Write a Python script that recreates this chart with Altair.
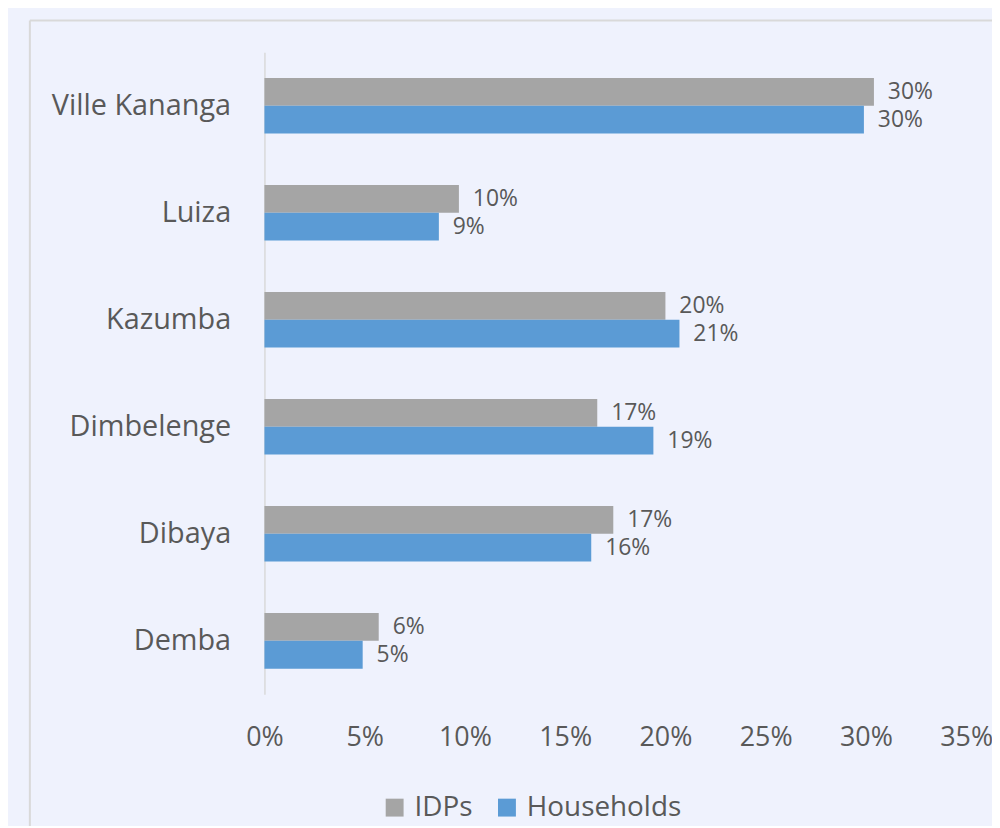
import altair as alt
import pandas as pd

districts = ["Ville Kananga", "Luiza", "Kazumba", "Dimbelenge", "Dibaya", "Demba"]
idps = [0.304, 0.097, 0.200, 0.166, 0.174, 0.057]
households = [0.299, 0.087, 0.207, 0.194, 0.163, 0.049]
series = ["IDPs", "Households"]
x_ticks = [0, 0.05, 0.10, 0.15, 0.20, 0.25, 0.30, 0.35]

rows = []
for d, a, b in zip(districts, idps, households):
    rows.append({"district": d, "series": "IDPs", "value": a})
    rows.append({"district": d, "series": "Households", "value": b})
df = pd.DataFrame(rows)

FONT = "Open Sans"
TXT = "#595959"
BG = "#EFF2FD"

y_enc = alt.Y("district:N", sort=districts, title=None,
              scale=alt.Scale(paddingInner=0.48, paddingOuter=0.24),
              axis=alt.Axis(labelFontSize=29, labelColor=TXT, labelFont=FONT,
                            labelPadding=34, labelLimit=400, ticks=False,
                            domainColor="#D9D9D9", domainWidth=1.5))
x_enc = alt.X("value:Q", title=None,
              scale=alt.Scale(domain=[0, 0.35], nice=False),
              axis=alt.Axis(format=".0%", values=x_ticks, grid=False, ticks=False,
                            domain=False, labelFontSize=27, labelColor=TXT,
                            labelFont=FONT, labelPadding=31, labelFlush=False))
off = alt.YOffset("series:N", sort=series)

bars = alt.Chart(df).mark_bar(stroke=None).encode(
    y=y_enc, x=x_enc, yOffset=off,
    color=alt.Color("series:N", sort=series,
                    scale=alt.Scale(domain=series, range=["#A5A5A5", "#5B9BD5"]),
                    legend=alt.Legend(title=None, orient="none", direction="horizontal",
                                      legendX=117, legendY=746, symbolType="square",
                                      symbolSize=324, symbolStrokeWidth=0,
                                      labelFontSize=28, labelColor=TXT, labelFont=FONT,
                                      columnPadding=20, labelOffset=6)),
)

labels = alt.Chart(df).mark_text(align="left", baseline="middle", dx=14,
                                 fontSize=23, color=TXT, font=FONT).encode(
    y=alt.Y("district:N", sort=districts), x="value:Q", yOffset=off,
    text=alt.Text("value:Q", format=".0%"),
)

frame_df = pd.DataFrame({"k": [0]})
frame_top = alt.Chart(frame_df).mark_rule(color="#D9D9D9", strokeWidth=2).encode(
    x=alt.value(-236), x2=alt.value(740), y=alt.value(-32))
frame_left = alt.Chart(frame_df).mark_rule(color="#D9D9D9", strokeWidth=2).encode(
    x=alt.value(-236), y=alt.value(-32), y2=alt.value(800))

chart = alt.layer(frame_top, frame_left, bars, labels).properties(
    width=706, height=646,
    padding={"left": 258, "top": 42, "right": 26, "bottom": 130},
    autosize=alt.AutoSizeParams(type="none"),
    background=BG,
).configure_view(stroke=None)

chart.save("out.html", embed_options={"renderer": "svg", "actions": False})
